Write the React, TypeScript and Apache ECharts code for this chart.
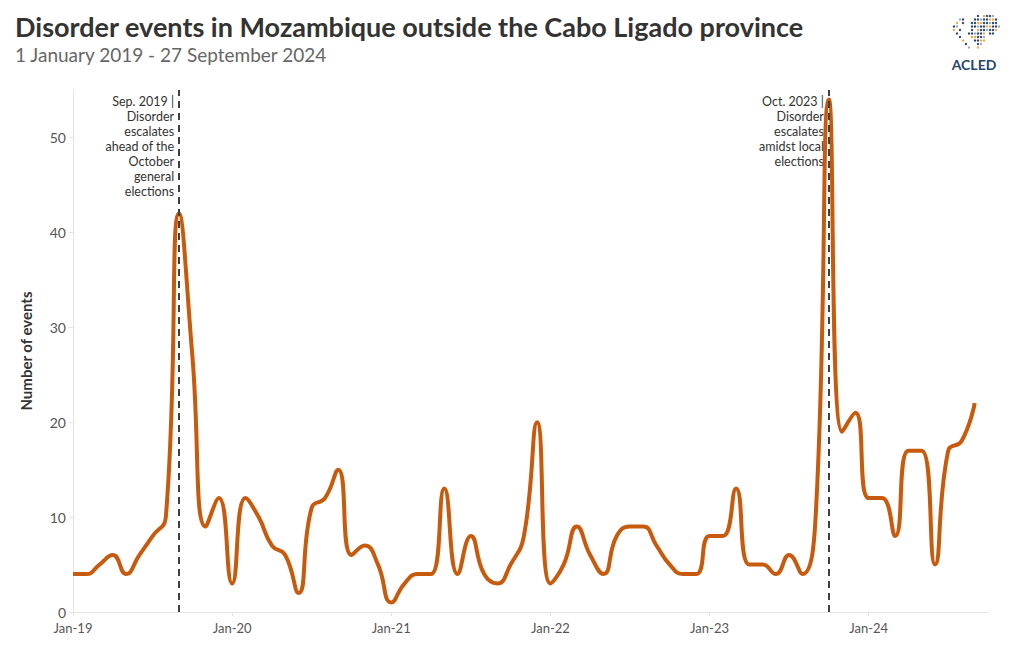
import React, { useEffect, useRef } from "react";
import * as echarts from "echarts";

const months: string[] = [
  "Jan-19","Feb-19","Mar-19","Apr-19","May-19","Jun-19","Jul-19","Aug-19","Sep-19","Oct-19","Nov-19","Dec-19",
  "Jan-20","Feb-20","Mar-20","Apr-20","May-20","Jun-20","Jul-20","Aug-20","Sep-20","Oct-20","Nov-20","Dec-20",
  "Jan-21","Feb-21","Mar-21","Apr-21","May-21","Jun-21","Jul-21","Aug-21","Sep-21","Oct-21","Nov-21","Dec-21",
  "Jan-22","Feb-22","Mar-22","Apr-22","May-22","Jun-22","Jul-22","Aug-22","Sep-22","Oct-22","Nov-22","Dec-22",
  "Jan-23","Feb-23","Mar-23","Apr-23","May-23","Jun-23","Jul-23","Aug-23","Sep-23","Oct-23","Nov-23","Dec-23",
  "Jan-24","Feb-24","Mar-24","Apr-24","May-24","Jun-24","Jul-24","Aug-24","Sep-24",
];

const events: number[] = [
  4, 4, 5, 6, 4, 6, 8, 10, 42, 27, 9, 12,
  3, 12, 10, 7, 6, 2, 11, 12, 15, 6, 7, 5,
  1, 3, 4, 4, 13, 4, 8, 4, 3, 5, 8, 20,
  3, 5, 9, 6, 4, 8, 9, 9, 7, 5, 4, 4,
  8, 8, 13, 5, 5, 4, 6, 4, 10, 54, 19, 21,
  12, 12, 8, 17, 17, 5, 17, 18, 22,
];

const annotations = [
  { month: "Sep-19", lines: ["Sep. 2019 |", "Disorder", "escalates", "ahead of the", "October", "general", "elections"] },
  { month: "Oct-23", lines: ["Oct. 2023 |", "Disorder", "escalates", "amidst local", "elections"] },
];

const TITLE = "Disorder events in Mozambique outside the Cabo Ligado province";
const SUBTITLE = "1 January 2019 - 27 September 2024";
const Y_NAME = "Number of events";

const FONT = "Lato, 'Open Sans', sans-serif";

export default function App() {
  const ref = useRef<HTMLDivElement>(null);

  useEffect(() => {
    if (!ref.current) return;
    const chart = echarts.init(ref.current, null, { renderer: "svg" });

    const seriesData = events.map((v, i) => [i, v]);

    // logo dots (decorative world map)
    const logoDots: any[] = [];
    const dotPattern = [
      "..........#.####..",
      "....##...########.",
      "...#.#..#########.",
      "..##....##########",
      "..#.#...#.#######.",
      "...#...######.##..",
      "....#...#####.....",
      ".....#...####.....",
      "......#...##......",
      ".......#..#.......",
    ];
    const colors = ["#27456f", "#e6ac45", "#27456f", "#9aa8bd", "#27456f", "#e6ac45", "#27456f"];
    dotPattern.forEach((row, r) => {
      row.split("").forEach((c, k) => {
        if (c === "#") {
          logoDots.push({
            type: "circle",
            shape: { cx: 948 + k * 3.0, cy: 16 + r * 3.5, r: 1.2 },
            style: { fill: colors[(r * 5 + k * 3) % colors.length] },
            silent: true,
          });
        }
      });
    });

    const option: any = {
      animation: false,
      backgroundColor: "#ffffff",
      textStyle: { fontFamily: FONT },
      title: {
        text: TITLE,
        subtext: SUBTITLE,
        left: 10,
        top: 8,
        itemGap: 5,
        textStyle: { fontFamily: FONT, fontSize: 27, fontWeight: "bold", color: "#333333" },
        subtextStyle: { fontFamily: FONT, fontSize: 19, color: "#666666" },
      },
      grid: { left: 73, right: 32, top: 90, bottom: 38, containLabel: false },
      xAxis: {
        type: "value",
        min: 0,
        max: 69,
        interval: 12,
        axisLine: { show: true, lineStyle: { color: "#e3e3e3", width: 1 } },
        axisTick: { show: true, length: 4, lineStyle: { color: "#e3e3e3" } },
        splitLine: { show: false },
        axisLabel: {
          color: "#555555",
          fontSize: 13,
          fontFamily: FONT,
          margin: 9,
          showMaxLabel: false,
          formatter: (v: number) => months[v] ?? "",
        },
      },
      yAxis: {
        type: "value",
        min: 0,
        max: 55,
        interval: 10,
        name: Y_NAME,
        nameLocation: "middle",
        nameGap: 40,
        nameTextStyle: { fontFamily: FONT, fontSize: 15, fontWeight: "bold", color: "#333333" },
        axisLine: { show: true, lineStyle: { color: "#e3e3e3", width: 1 } },
        axisTick: { show: true, length: 4, lineStyle: { color: "#e3e3e3" } },
        splitLine: { show: false },
        axisLabel: { color: "#555555", fontSize: 14, fontFamily: FONT, margin: 7, showMaxLabel: false },
      },
      series: [
        {
          type: "line",
          name: "events",
          data: seriesData,
          smooth: 0.5,
          showSymbol: false,
          symbol: "none",
          lineStyle: { color: "#c85a0e", width: 4 },
          z: 3,
        },
        {
          type: "line",
          name: "markers",
          data: [],
          z: 6,
          markLine: {
            silent: true,
            symbol: "none",
            animation: false,
            label: { show: false },
            lineStyle: { color: "#404040", width: 2, type: [7, 5] },
            data: annotations.map((a) => ({ xAxis: months.indexOf(a.month) })),
          },
        },
      ],
      graphic: [],
    };

    chart.setOption(option);

    const graphics: any[] = [];
    annotations.forEach((a) => {
      const idx = months.indexOf(a.month);
      const px = chart.convertToPixel({ gridIndex: 0 }, [idx, 0]) as number[];
      graphics.push({
        type: "text",
        x: px[0] - 5,
        y: 94,
        silent: true,
        z: 1,
        style: {
          text: a.lines.join("\n"),
          align: "right",
          verticalAlign: "top",
          fontFamily: FONT,
          fontSize: 12.5,
          lineHeight: 15,
          fill: "#333333",
        },
      });
    });
    graphics.push(...logoDots);
    graphics.push({
      type: "text",
      x: 974,
      y: 57,
      silent: true,
      style: {
        text: "ACLED",
        align: "center",
        fontFamily: FONT,
        fontSize: 14,
        fontWeight: "bold",
        fill: "#27456f",
      },
    });
    chart.setOption({ graphic: graphics });

    return () => chart.dispose();
  }, []);

  return <div ref={ref} style={{ width: 1020, height: 650, position: "absolute", left: 0, top: 0 }} />;
}
